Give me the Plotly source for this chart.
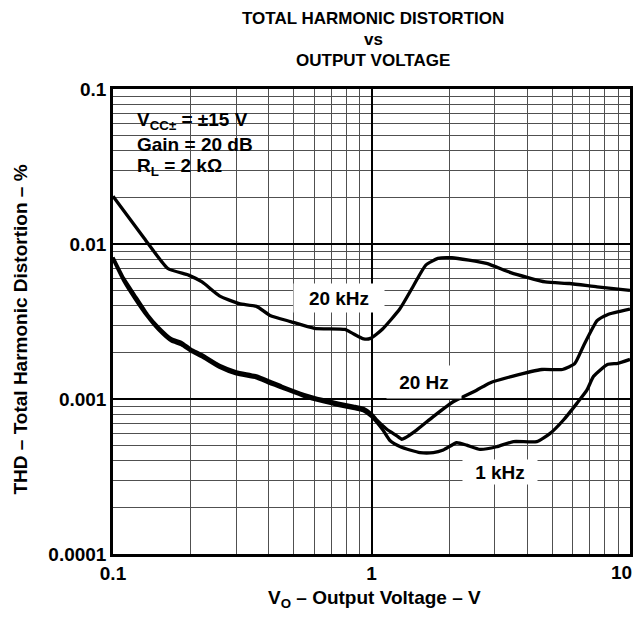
import math
import plotly.graph_objects as go

# ---- data ----
v_20khz = [0.100, 0.132, 0.163, 0.196, 0.221, 0.258, 0.308, 0.359, 0.405, 0.486,
           0.601, 0.789, 0.839, 0.933, 0.991, 1.104, 1.288, 1.457, 1.622, 1.807,
           2.046, 2.785, 3.455, 4.70, 5.83, 7.46, 10.0]
thd_20khz = [0.0203, 0.0109, 0.00695, 0.0063, 0.00569, 0.00463, 0.00412, 0.00396, 0.00346, 0.00316,
             0.00286, 0.00281, 0.00267, 0.00244, 0.00246, 0.00283, 0.00382, 0.00542, 0.00731, 0.00807,
             0.00815, 0.00749, 0.00654, 0.00569, 0.00556, 0.00529, 0.00502]

v_20hz = [0.100, 0.110, 0.121, 0.136, 0.150, 0.168, 0.184, 0.200, 0.221, 0.258,
          0.300, 0.359, 0.405, 0.450, 0.549, 0.650, 0.743, 0.850, 0.930, 1.000,
          1.050, 1.143, 1.250, 1.310, 1.346, 1.494, 1.734, 2.070, 2.550, 2.870,
          3.500, 4.560, 5.480, 6.110, 6.600, 7.460, 8.180, 10.0]
thd_20hz = [0.0082, 0.0060, 0.0047, 0.0035, 0.0029, 0.00245, 0.00232, 0.0021, 0.00193, 0.00165,
            0.00150, 0.00141, 0.00130, 0.00121, 0.00107, 0.00099, 0.00094, 0.00090, 0.00087, 0.00080,
            0.00073, 0.00064, 0.00058, 0.00055, 0.00056, 0.00063, 0.00077, 0.00096, 0.00114, 0.00127,
            0.00140, 0.00155, 0.00155, 0.00169, 0.00219, 0.00320, 0.00350, 0.00380]

v_1khz = [0.100, 0.110, 0.121, 0.136, 0.150, 0.168, 0.184, 0.200, 0.221, 0.258,
          0.300, 0.359, 0.405, 0.450, 0.549, 0.650, 0.743, 0.850, 0.930, 1.000,
          1.100, 1.178, 1.300, 1.408, 1.540, 1.734, 1.896, 2.135, 2.335, 2.630,
          3.050, 3.540, 4.360, 4.910, 5.530, 6.230, 6.810, 7.230, 8.180, 8.980, 10.0]
thd_1khz = [0.0080, 0.0058, 0.0045, 0.0034, 0.0028, 0.00237, 0.00224, 0.00204, 0.00187, 0.00160,
            0.00145, 0.00137, 0.00126, 0.00118, 0.00104, 0.00096, 0.00091, 0.00087, 0.00084, 0.00077,
            0.00064, 0.00054, 0.00049, 0.000469, 0.000451, 0.000451, 0.000469, 0.000522, 0.000504, 0.000473,
            0.000492, 0.000531, 0.000531, 0.000600, 0.000732, 0.000937, 0.00114, 0.00140, 0.00167, 0.00170, 0.00180]

x_ticks = [0.1, 1, 10]
x_ticktext = ["0.1", "1", ""]          # "10" is drawn right-aligned below
x_last_label = "10"
y_ticks = [0.0001, 0.001, 0.01, 0.1]
y_ticktext = ["0.0001", "0.001", "0.01", "0.1"]

x_minor = [k * 10.0 ** e for e in (-1, 0) for k in range(2, 10)]
y_minor = [k * 10.0 ** e for e in (-4, -3, -2) for k in range(2, 10)]

FONT = "Liberation Sans, Arial, sans-serif"
FS = 19

# plot-area geometry in pixels
L, R, T, B = 113, 633, 89, 554
PW, PH = R - L, B - T


def px(xp):
    return (xp - L) / PW


def py(yp):
    return (B - yp) / PH


fig = go.Figure()
for xs, ys in ((v_20khz, thd_20khz), (v_20hz, thd_20hz), (v_1khz, thd_1khz)):
    fig.add_trace(go.Scatter(x=xs, y=ys, mode="lines",
                             line=dict(color="black", width=3.3, shape="spline", smoothing=0.5),
                             showlegend=False, hoverinfo="skip"))

axis_common = dict(
    showline=True, linecolor="black", linewidth=2.5, mirror=True,
    showgrid=True, gridcolor="black", gridwidth=1.5,
    zeroline=False, ticks="",
    tickfont=dict(family=FONT, size=FS, color="black", weight="bold"),
)

fig.update_xaxes(type="log", range=[-1, 1], tickmode="array", tickvals=x_ticks, ticktext=x_ticktext,
                 minor=dict(tickmode="array", tickvals=x_minor, showgrid=True, gridcolor="#505050", gridwidth=1),
                 **axis_common)
fig.update_yaxes(type="log", range=[-4, -1], tickmode="array", tickvals=y_ticks, ticktext=y_ticktext,
                 minor=dict(tickmode="array", tickvals=y_minor, showgrid=True, gridcolor="#505050", gridwidth=1),
                 **axis_common)

# last x tick label, right-aligned at the plot edge
fig.add_annotation(text=x_last_label, xref="paper", yref="paper", x=px(637), y=py(572),
                   xanchor="right", yanchor="middle", showarrow=False,
                   font=dict(family=FONT, size=FS, color="black", weight="bold"))

# axis titles
fig.add_annotation(text="V<sub>O</sub> – Output Voltage – V", xref="paper", yref="paper",
                   x=px(376), y=py(599), xanchor="center", yanchor="middle", showarrow=False,
                   font=dict(family=FONT, size=FS, color="black", weight="bold"))
fig.add_annotation(text="THD – Total Harmonic Distortion – %", xref="paper", yref="paper",
                   x=px(19), y=py(330), xanchor="center", yanchor="middle", textangle=-90, showarrow=False,
                   font=dict(family=FONT, size=FS, color="black", weight="bold"))

# white box behind the conditions text
fig.add_shape(type="rect", xref="paper", yref="paper",
              x0=px(120), x1=px(288), y0=py(186), y1=py(107),
              fillcolor="white", line=dict(width=0), layer="between")

cond_lines = ["V<sub>CC±</sub> = ±15 V", "Gain = 20 dB", "R<sub>L</sub> = 2 kΩ"]
cond_y = [121, 144, 167]
for t, yy in zip(cond_lines, cond_y):
    fig.add_annotation(text=t, xref="paper", yref="paper", x=px(135), y=py(yy),
                       xanchor="left", yanchor="middle", showarrow=False,
                       font=dict(family=FONT, size=FS, color="black", weight="bold"))

# curve labels
labels = [("20 kHz", 0.75, 0.00447, 88, 26), ("20 Hz", 1.6, 0.00129, 72, 30), ("1 kHz", 3.15, 0.00034, 72, 22)]
for t, lx, ly, w, h in labels:
    fig.add_annotation(text=t, x=math.log10(lx), y=math.log10(ly), showarrow=False,
                       bgcolor="white", width=w, height=h,
                       font=dict(family=FONT, size=FS, color="black", weight="bold"))

# title
for t, yy in (("TOTAL HARMONIC DISTORTION", 19), ("vs", 40), ("OUTPUT VOLTAGE", 61)):
    fig.add_annotation(text=t, xref="paper", yref="paper", x=px(375), y=py(yy),
                       xanchor="center", yanchor="middle", showarrow=False,
                       font=dict(family=FONT, size=17, color="black", weight="bold"))

fig.update_layout(
    width=640, height=617,
    margin=dict(l=L, r=640 - R, t=T, b=617 - B),
    plot_bgcolor="white", paper_bgcolor="white",
    font=dict(family=FONT, color="black"),
)

fig.write_html("out.html", config={"displayModeBar": False},
               post_script="document.body.style.margin='0';")
